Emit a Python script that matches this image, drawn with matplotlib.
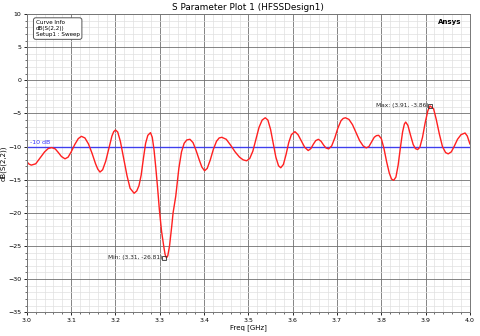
import numpy as np
from matplotlib import pyplot as plt
from matplotlib.ticker import MultipleLocator

# values
freq = [3.000, 3.005, 3.010, 3.020, 3.030, 3.040, 3.048, 3.056, 3.064, 3.071, 3.078, 3.086,
        3.093, 3.100, 3.108, 3.116, 3.123, 3.131, 3.139, 3.147, 3.155, 3.160, 3.165,
        3.171, 3.178, 3.185, 3.192, 3.196, 3.200, 3.205, 3.211, 3.218, 3.226, 3.233, 3.242,
        3.248, 3.253, 3.258, 3.263, 3.268, 3.273, 3.279, 3.283, 3.287, 3.291, 3.295, 3.299,
        3.304, 3.309, 3.312, 3.315, 3.318, 3.322, 3.327, 3.330, 3.336, 3.343, 3.349, 3.355,
        3.361, 3.368, 3.375, 3.382, 3.389, 3.395, 3.401, 3.407, 3.414, 3.421, 3.428, 3.434,
        3.440, 3.450, 3.460, 3.470, 3.480, 3.488, 3.496, 3.503, 3.510, 3.517, 3.524, 3.531,
        3.538, 3.544, 3.550, 3.556, 3.562, 3.568, 3.573, 3.579, 3.585, 3.591, 3.597, 3.605,
        3.612, 3.619, 3.627, 3.635, 3.641, 3.647, 3.652, 3.658, 3.664, 3.670, 3.675, 3.681,
        3.688, 3.695, 3.702, 3.709, 3.714, 3.719, 3.727, 3.735, 3.743, 3.751, 3.759, 3.766,
        3.772, 3.778, 3.784, 3.789, 3.794, 3.800, 3.806, 3.812, 3.818, 3.823, 3.828, 3.833,
        3.838, 3.843, 3.848, 3.852, 3.855, 3.860, 3.866, 3.872, 3.877, 3.882, 3.887, 3.893,
        3.899, 3.905, 3.910, 3.918, 3.924, 3.931, 3.938, 3.945, 3.951, 3.958, 3.965, 3.972,
        3.980, 3.989, 3.994, 4.000]
s22_db = [-12.3, -12.65, -12.8, -12.6, -11.7, -10.8, -10.3, -10.15, -10.35, -10.9, -11.5, -11.85,
          -11.6, -10.8, -9.7, -8.8, -8.45, -8.7, -9.6, -11.0, -12.6, -13.4, -13.85,
          -13.5, -12.2, -10.3, -8.4, -7.75, -7.5, -7.8, -9.2, -11.6, -14.4, -16.3, -17.05,
          -16.7, -15.9, -14.3, -11.8, -9.5, -8.3, -7.9, -8.6, -10.5, -13.2, -16.2, -19.5,
          -22.8, -25.1, -26.3, -26.81, -26.5, -25.0, -22.0, -20.0, -17.5, -13.3, -10.8, -9.5,
          -9.0, -8.9, -9.4, -10.6, -12.0, -13.1, -13.65, -13.3, -12.0, -10.4, -9.2, -8.7,
          -8.6, -8.9, -9.8, -10.8, -11.6, -12.0, -12.15, -11.8, -10.7, -8.9, -7.1, -6.0,
          -5.65, -6.0, -7.4, -9.5, -11.6, -12.9, -13.2, -12.7, -11.2, -9.4, -8.2, -7.75,
          -8.2, -9.1, -10.1, -10.6, -10.3, -9.6, -9.1, -8.9, -9.2, -9.8, -10.2, -10.35,
          -9.9, -8.7, -7.2, -6.1, -5.75, -5.65, -5.9, -6.7, -7.9, -9.1, -9.9, -10.2,
          -10.0, -9.3, -8.6, -8.35, -8.3, -8.8, -10.3, -12.3, -14.0, -14.9, -15.1, -14.6,
          -12.8, -10.2, -7.8, -6.6, -6.3, -6.8, -8.3, -9.7, -10.3, -10.45, -10.1, -8.6,
          -6.4, -4.6, -3.86, -4.3, -5.9, -8.1, -10.0, -10.9, -11.1, -10.8, -9.9, -8.9,
          -8.2, -7.95, -8.4, -9.6]

max_pt = (3.91, -3.86)
min_pt = (3.31, -26.81)
ref_db = -10

fig = plt.figure(figsize=(4.8, 3.36), dpi=100)
ax = fig.add_axes([0.056, 0.071, 0.923, 0.887])

ax.set_xlim(3.0, 4.0)
ax.set_ylim(-35, 10)
ax.xaxis.set_major_locator(MultipleLocator(0.1))
ax.xaxis.set_minor_locator(MultipleLocator(0.02))
ax.yaxis.set_major_locator(MultipleLocator(5))
ax.yaxis.set_minor_locator(MultipleLocator(1))
ax.grid(which="major", color="#707070", lw=0.6)
ax.grid(which="minor", color="#e0e0e0", lw=0.5)
ax.set_axisbelow(True)
ax.tick_params(which="major", labelsize=4.5, length=2.5, width=0.6, pad=1.5)
ax.tick_params(which="minor", length=1.5, width=0.4)
for sp in ax.spines.values():
    sp.set_color("#777777")
    sp.set_linewidth(0.7)

ax.axhline(ref_db, color="#3333ff", lw=1.0, alpha=0.85)
ax.text(3.007, ref_db + 0.3, "-10 dB", color="#3333ff", fontsize=4.5, va="bottom")

ax.plot(freq, s22_db, color="#ff2020", lw=1.0)

# markers
for pt, label in [(max_pt, "Max: (3.91, -3.86)"), (min_pt, "Min: (3.31, -26.81)")]:
    ax.plot(pt[0], pt[1], marker="s", ms=2.5, mfc="none", mec="#333333", mew=0.6)
    ax.annotate(label, pt, xytext=(-1, 0.5), textcoords="offset points",
                ha="right", va="center", fontsize=4.2, color="#222222")

ax.set_title("S Parameter Plot 1 (HFSSDesign1)", fontsize=6.4, pad=3)
ax.set_xlabel("Freq [GHz]", fontsize=5, labelpad=1)
ax.set_ylabel("dB(S(2,2))", fontsize=5, labelpad=1)

ax.text(0.98, 0.983, "Ansys", transform=ax.transAxes, fontsize=5, fontweight="bold",
        ha="right", va="top")
ax.text(0.02, 0.98, "Curve Info\ndB(S(2,2))\nSetup1 : Sweep", transform=ax.transAxes,
        fontsize=4.1, ha="left", va="top", linespacing=1.25,
        bbox=dict(boxstyle="round,pad=0.4", fc="white", ec="#555555", lw=0.7))

fig.savefig("out.png", dpi=100)
